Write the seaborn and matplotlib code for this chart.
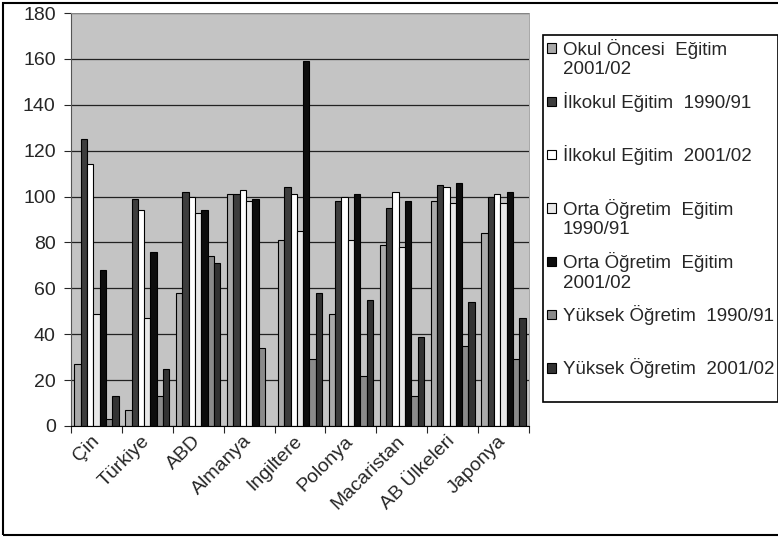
import numpy as np
import pandas as pd
import matplotlib
matplotlib.use("Agg")
import matplotlib.pyplot as plt
from matplotlib.patches import Patch, Rectangle
from matplotlib.legend_handler import HandlerBase
import seaborn as sns

# data
ulkeler = ["Çin", "Türkiye", "ABD", "Almanya", "Ingiltere", "Polonya",
           "Macaristan", "AB Ülkeleri", "Japonya"]
seriler = ["Okul Öncesi  Eğitim\n2001/02",
           "İlkokul Eğitim  1990/91",
           "İlkokul Eğitim  2001/02",
           "Orta Öğretim  Eğitim\n1990/91",
           "Orta Öğretim  Eğitim\n2001/02",
           "Yüksek Öğretim  1990/91",
           "Yüksek Öğretim  2001/02"]
okul_oncesi_0102 = [27, 7, 58, 101, 81, 49, 79, 98, 84]
ilkokul_9091 = [125, 99, 102, 101, 104, 98, 95, 105, 100]
ilkokul_0102 = [114, 94, 100, 103, 101, 100, 102, 104, 101]
orta_9091 = [49, 47, 93, 98, 85, 81, 78, 97, 97]
orta_0102 = [68, 76, 94, 99, 159, 101, 98, 106, 102]
yuksek_9091 = [3, 13, 74, 34, 29, 22, 13, 35, 29]
yuksek_0102 = [13, 25, 71, np.nan, 58, 55, 39, 54, 47]

renkler = ["#a9a9a9", "#3d3d3d", "#ffffff", "#e8e8e8", "#0d0d0d", "#8a8a8a", "#333333"]

degerler = [okul_oncesi_0102, ilkokul_9091, ilkokul_0102, orta_9091,
            orta_0102, yuksek_9091, yuksek_0102]
rows = []
for s, vals in zip(seriler, degerler):
    for u, v in zip(ulkeler, vals):
        rows.append({"ulke": u, "seri": s, "deger": v})
df = pd.DataFrame(rows)

sns.set_style("white")
plt.rcParams["font.family"] = ["Liberation Sans", "DejaVu Sans"]

fig = plt.figure(figsize=(7.78, 5.38), dpi=100)
ax = fig.add_axes([71 / 778, 1 - 426 / 538, 458 / 778, 413 / 538])
ax.set_facecolor("#c4c4c4")

sns.barplot(data=df, x="ulke", y="deger", hue="seri", order=ulkeler,
            hue_order=seriler, palette=renkler, width=0.87, gap=0,
            edgecolor="black", linewidth=0.8, saturation=1, legend=False, ax=ax)

ax.set_ylim(0, 180)
ax.set_yticks(range(0, 181, 20))
ax.set_xlim(-0.5, len(ulkeler) - 0.5)
ax.set_axisbelow(True)
ax.yaxis.grid(True, color="#222222", linewidth=0.9)
ax.set_xlabel("")
ax.set_ylabel("")

for side in ["top", "right"]:
    ax.spines[side].set_color("#999999")
    ax.spines[side].set_linewidth(0.6)
ax.spines["left"].set_color("#555555")
ax.spines["bottom"].set_color("black")

ax.tick_params(axis="y", labelsize=14, length=5, width=0.8, pad=6, direction="out", left=True)
ax.set_xticks(np.arange(-0.5, len(ulkeler), 1.0), minor=True)
ax.tick_params(axis="x", which="minor", length=5, width=0.8, direction="out", bottom=True)
ax.tick_params(axis="x", which="major", length=0, pad=9)
ax.set_xticks(range(len(ulkeler)))
ax.set_xticklabels(ulkeler, rotation=45, ha="right", va="center",
                   rotation_mode="anchor", fontsize=14)


class KareHandler(HandlerBase):
    def create_artists(self, legend, orig_handle, xdescent, ydescent,
                       width, height, fontsize, trans):
        s = 0.5 * fontsize
        y0 = -ydescent + height / 2 - s / 2 + 0.55 * fontsize
        r = Rectangle((-xdescent, y0), s, s, facecolor=orig_handle.get_facecolor(),
                      edgecolor="black", linewidth=0.8, transform=trans)
        return [r]


handles = [Patch(facecolor=c, edgecolor="black") for c in renkler]
etiketler = [s if "\n" in s else s + "\n " for s in seriler]
leg = fig.legend(handles, etiketler, loc="upper left",
                 bbox_to_anchor=(543 / 778, 1 - 35 / 538), borderaxespad=0,
                 fontsize=13.5, handler_map={Patch: KareHandler()},
                 handlelength=0.55, handletextpad=0.3, labelspacing=0.73,
                 borderpad=0.2, frameon=True, fancybox=False)
leg.get_frame().set_edgecolor("black")
leg.get_frame().set_linewidth(1.2)
leg.get_frame().set_alpha(1)

# outer chart border
fig.add_artist(Rectangle((3 / 778, 3 / 538), 1.0, 1 - 6 / 538, transform=fig.transFigure,
                         fill=False, edgecolor="black", linewidth=1.5))

fig.savefig("out.png", dpi=100)
plt.close(fig)
